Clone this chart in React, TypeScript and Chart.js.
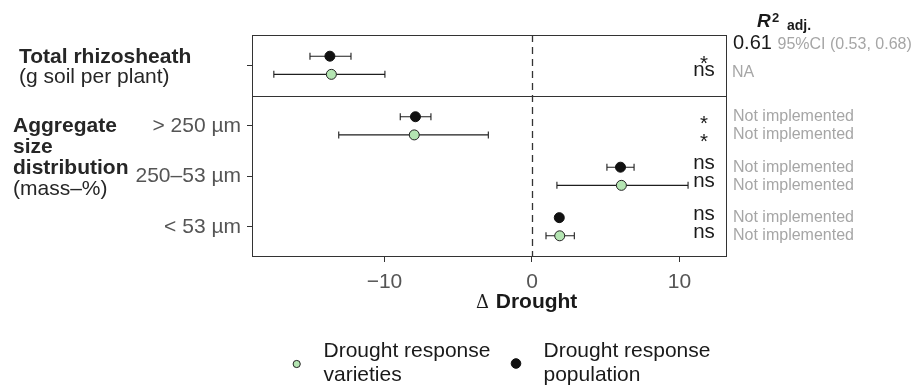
import React, { useEffect, useRef } from 'react';
import { Chart, registerables } from 'chart.js';

Chart.register(...registerables);

// ---------------- data ----------------
const facetSizes = [1, 3];
const groupLabels = [
  { bold: ['Total rhizosheath'], regular: ['(g soil per plant)'] },
  { bold: ['Aggregate', 'size', 'distribution'], regular: ['(mass–%)'] },
];
const categories = ['Total rhizosheath', '> 250 µm', '250–53 µm', '< 53 µm'];
const tickLabels = ['', '> 250 µm', '250–53 µm', '< 53 µm'];

const popMean = [-13.7, -7.9, 6.0, 1.85];
const popLow = [-15.05, -8.93, 5.08, 1.72];
const popHigh = [-12.27, -6.85, 6.92, 1.98];

const varMean = [-13.6, -7.98, 6.06, 1.88];
const varLow = [-17.5, -13.1, 1.69, 0.95];
const varHigh = [-9.97, -2.96, 10.58, 2.87];

const popSig = ['*', '*', 'ns', 'ns'];
const varSig = ['ns', '*', 'ns', 'ns'];

const popR2 = ['0.61', 'Not implemented', 'Not implemented', 'Not implemented'];
const popR2CI = ['95%CI (0.53, 0.68)', '', '', ''];
const varR2 = ['NA', 'Not implemented', 'Not implemented', 'Not implemented'];

const xTicks = [-10, 0, 10];
const xMin = -18.98;
const xMax = 13.22;

const seriesNames = ['Drought response\nvarieties', 'Drought response\npopulation'];

// ---------------- layout helpers ----------------
const EXPAND = 0.6;
const DODGE = 0.18;
const positions: number[] = [];
const boundaries: number[] = [];
(() => {
  let off = 0;
  facetSizes.forEach((n) => {
    for (let i = 0; i < n; i++) positions.push(off + EXPAND + i);
    off += n - 1 + 2 * EXPAND;
    boundaries.push(off);
  });
})();
const yMaxVal = boundaries[boundaries.length - 1];

const FONT = "'Liberation Sans', Arial, Helvetica, sans-serif";
const GREEN = '#b4e5b2';
const BLACK = '#111111';
const GRAY_TXT = '#a6a6a6';
const AXIS_TXT = '#555555';
const LINE = '#333333';
const BIG = 21;

function txt(ctx: CanvasRenderingContext2D, s: string, x: number, y: number, font: string, color: string, align: CanvasTextAlign = 'left') {
  ctx.font = font;
  ctx.fillStyle = color;
  ctx.textAlign = align;
  ctx.textBaseline = 'alphabetic';
  ctx.fillText(s, x, y);
}

const forestPlugin = {
  id: 'forest',
  beforeDatasetsDraw(chart: any) {
    const { ctx, chartArea: ca, scales } = chart;
    const xs = scales.x;
    const ys = scales.y;
    ctx.save();
    // dashed zero line
    ctx.strokeStyle = LINE;
    ctx.lineWidth = 1.3;
    ctx.setLineDash([7, 5]);
    const x0 = Math.round(xs.getPixelForValue(0)) + 0.5;
    ctx.beginPath();
    ctx.moveTo(x0, ca.top);
    ctx.lineTo(x0, ca.bottom);
    ctx.stroke();
    ctx.setLineDash([]);
    // error bars
    ctx.lineWidth = 1.1;
    ctx.strokeStyle = '#1e1e1e';
    const drawBar = (lo: number, hi: number, yv: number) => {
      const y = ys.getPixelForValue(yv);
      const a = xs.getPixelForValue(lo);
      const b = xs.getPixelForValue(hi);
      ctx.beginPath();
      ctx.moveTo(a, y);
      ctx.lineTo(b, y);
      ctx.moveTo(a, y - 3.5);
      ctx.lineTo(a, y + 3.5);
      ctx.moveTo(b, y - 3.5);
      ctx.lineTo(b, y + 3.5);
      ctx.stroke();
    };
    categories.forEach((_, i) => {
      drawBar(popLow[i], popHigh[i], positions[i] - DODGE);
      drawBar(varLow[i], varHigh[i], positions[i] + DODGE);
    });
    ctx.restore();
  },
  afterDraw(chart: any) {
    const { ctx, chartArea: ca, scales } = chart;
    const ys = scales.y;
    ctx.save();
    // panel frame + facet dividers
    ctx.strokeStyle = LINE;
    ctx.lineWidth = 1;
    const L = Math.round(ca.left) + 0.5;
    const R = Math.round(ca.right) - 0.5;
    const T = Math.round(ca.top) + 0.5;
    const B = Math.round(ca.bottom) - 0.5;
    ctx.strokeRect(L, T, R - L, B - T);
    boundaries.slice(0, -1).forEach((bv) => {
      const y = Math.round(ys.getPixelForValue(bv)) + 0.5;
      ctx.beginPath();
      ctx.moveTo(L, y);
      ctx.lineTo(R, y);
      ctx.stroke();
    });

    // group labels on the far left
    let start = 0;
    facetSizes.forEach((n, f) => {
      const g = groupLabels[f];
      const lines = [...g.bold.map((s) => ({ s, b: true })), ...g.regular.map((s) => ({ s, b: false }))];
      const x = f === 0 ? 19 : 13;
      const y0 = f === 0 ? ys.getPixelForValue(positions[start]) - 2.5 : ys.getPixelForValue(positions[start]) + 6;
      lines.forEach((ln, k) => {
        txt(ctx, ln.s, x, y0 + k * (f === 0 ? 20.5 : 21), `${ln.b ? 'bold ' : ''}${BIG}px ${FONT}`, '#262626');
      });
      start += n;
    });

    // significance and R2 texts
    const sigX = 704;
    const r2X = 733;
    categories.forEach((_, i) => {
      const yPop = ys.getPixelForValue(positions[i] - DODGE);
      const yVar = ys.getPixelForValue(positions[i] + DODGE);
      const drawSig = (s: string, y: number) => {
        if (s === '*') txt(ctx, s, sigX, y + 13.5, `20.5px ${FONT}`, '#1a1a1a', 'center');
        else txt(ctx, s, sigX, y + 2, `20.5px ${FONT}`, '#1a1a1a', 'center');
      };
      drawSig(popSig[i], yPop);
      drawSig(varSig[i], yVar);
      if (popR2CI[i]) {
        txt(ctx, popR2[i], r2X, yPop - 7, `20px ${FONT}`, '#1a1a1a');
        ctx.font = `20px ${FONT}`;
        const w = ctx.measureText(popR2[i] + ' ').width;
        txt(ctx, popR2CI[i], r2X + w, yPop - 7, `16px ${FONT}`, GRAY_TXT);
        txt(ctx, varR2[i], r2X - 1, yVar + 2.7, `16px ${FONT}`, GRAY_TXT);
      } else {
        txt(ctx, popR2[i], r2X, yPop + 4.5, `16px ${FONT}`, GRAY_TXT);
        txt(ctx, varR2[i], r2X, yVar + 4.5, `16px ${FONT}`, GRAY_TXT);
      }
    });

    // R2 header
    txt(ctx, 'R', 757, 27, `italic bold 19px ${FONT}`, '#1a1a1a');
    txt(ctx, '2', 772, 22, `bold 13px ${FONT}`, '#1a1a1a');
    txt(ctx, 'adj.', 787, 30, `bold 14px ${FONT}`, '#1a1a1a');

    // x title
    const tX = 476;
    txt(ctx, 'Δ', tX, 308, `18px 'DejaVu Serif', serif`, '#1a1a1a');
    ctx.font = `18px 'DejaVu Serif', serif`;
    const dw = ctx.measureText('Δ ').width;
    txt(ctx, 'Drought', tX + dw + 1, 308, `bold ${BIG}px ${FONT}`, '#1a1a1a');

    // legend
    const legendItems = [
      { cx: 296.7, cy: 364, r: 3.6, fill: GREEN, stroke: '#222', tx: 323.5 },
      { cx: 516, cy: 363.5, r: 4.8, fill: BLACK, stroke: BLACK, tx: 543.5 },
    ];
    legendItems.forEach((it, k) => {
      ctx.beginPath();
      ctx.arc(it.cx, it.cy, it.r, 0, Math.PI * 2);
      ctx.fillStyle = it.fill;
      ctx.fill();
      ctx.lineWidth = 1;
      ctx.strokeStyle = it.stroke;
      ctx.stroke();
      seriesNames[k].split('\n').forEach((s, j) => {
        txt(ctx, s, it.tx, 357.3 + j * 23.5, `${BIG}px ${FONT}`, '#1a1a1a');
      });
    });
    ctx.restore();
  },
};

export default function App() {
  const ref = useRef<HTMLCanvasElement | null>(null);
  useEffect(() => {
    document.body.style.margin = '0';
    if (!ref.current) return;
    const chart = new Chart(ref.current, {
      type: 'scatter',
      data: {
        datasets: [
          {
            label: 'Drought response varieties',
            data: categories.map((_, i) => ({ x: varMean[i], y: positions[i] + DODGE })),
            backgroundColor: GREEN,
            borderColor: '#222',
            borderWidth: 1,
            pointRadius: 5,
            pointHoverRadius: 5,
          },
          {
            label: 'Drought response population',
            data: categories.map((_, i) => ({ x: popMean[i], y: positions[i] - DODGE })),
            backgroundColor: BLACK,
            borderColor: BLACK,
            borderWidth: 1,
            pointRadius: 5,
            pointHoverRadius: 5,
          },
        ],
      },
      options: {
        animation: false,
        responsive: false,
        maintainAspectRatio: false,
        devicePixelRatio: 1,
        layout: { padding: { left: 0, right: 190, top: 35, bottom: 93 } },
        plugins: { legend: { display: false }, tooltip: { enabled: false } },
        scales: {
          x: {
            type: 'linear',
            min: xMin,
            max: xMax,
            afterBuildTicks: (s: any) => {
              s.ticks = xTicks.map((v) => ({ value: v }));
            },
            afterFit: (s: any) => {
              s.height = 40;
            },
            ticks: {
              callback: (v: any) => (Number(v) < 0 ? '−' + Math.abs(Number(v)) : String(v)),
              font: { family: FONT, size: BIG },
              color: AXIS_TXT,
              padding: 8,
              autoSkip: false,
              maxRotation: 0,
            },
            grid: { drawOnChartArea: false, drawTicks: true, tickLength: 5, color: LINE },
            border: { display: false },
          },
          y: {
            type: 'linear',
            reverse: true,
            min: 0,
            max: yMaxVal,
            afterBuildTicks: (s: any) => {
              s.ticks = positions.map((v) => ({ value: v }));
            },
            afterFit: (s: any) => {
              s.width = 252;
            },
            ticks: {
              callback: (_v: any, i: number) => tickLabels[i],
              font: { family: FONT, size: BIG },
              color: AXIS_TXT,
              padding: 6,
              autoSkip: false,
            },
            grid: { drawOnChartArea: false, drawTicks: true, tickLength: 5, color: LINE },
            border: { display: false },
          },
        },
      },
      plugins: [forestPlugin],
    });
    return () => chart.destroy();
  }, []);
  return (
    <div style={{ width: 917, height: 390, position: 'relative', background: '#fff' }}>
      <canvas ref={ref} width={917} height={390} style={{ width: 917, height: 390, display: 'block' }} />
    </div>
  );
}
